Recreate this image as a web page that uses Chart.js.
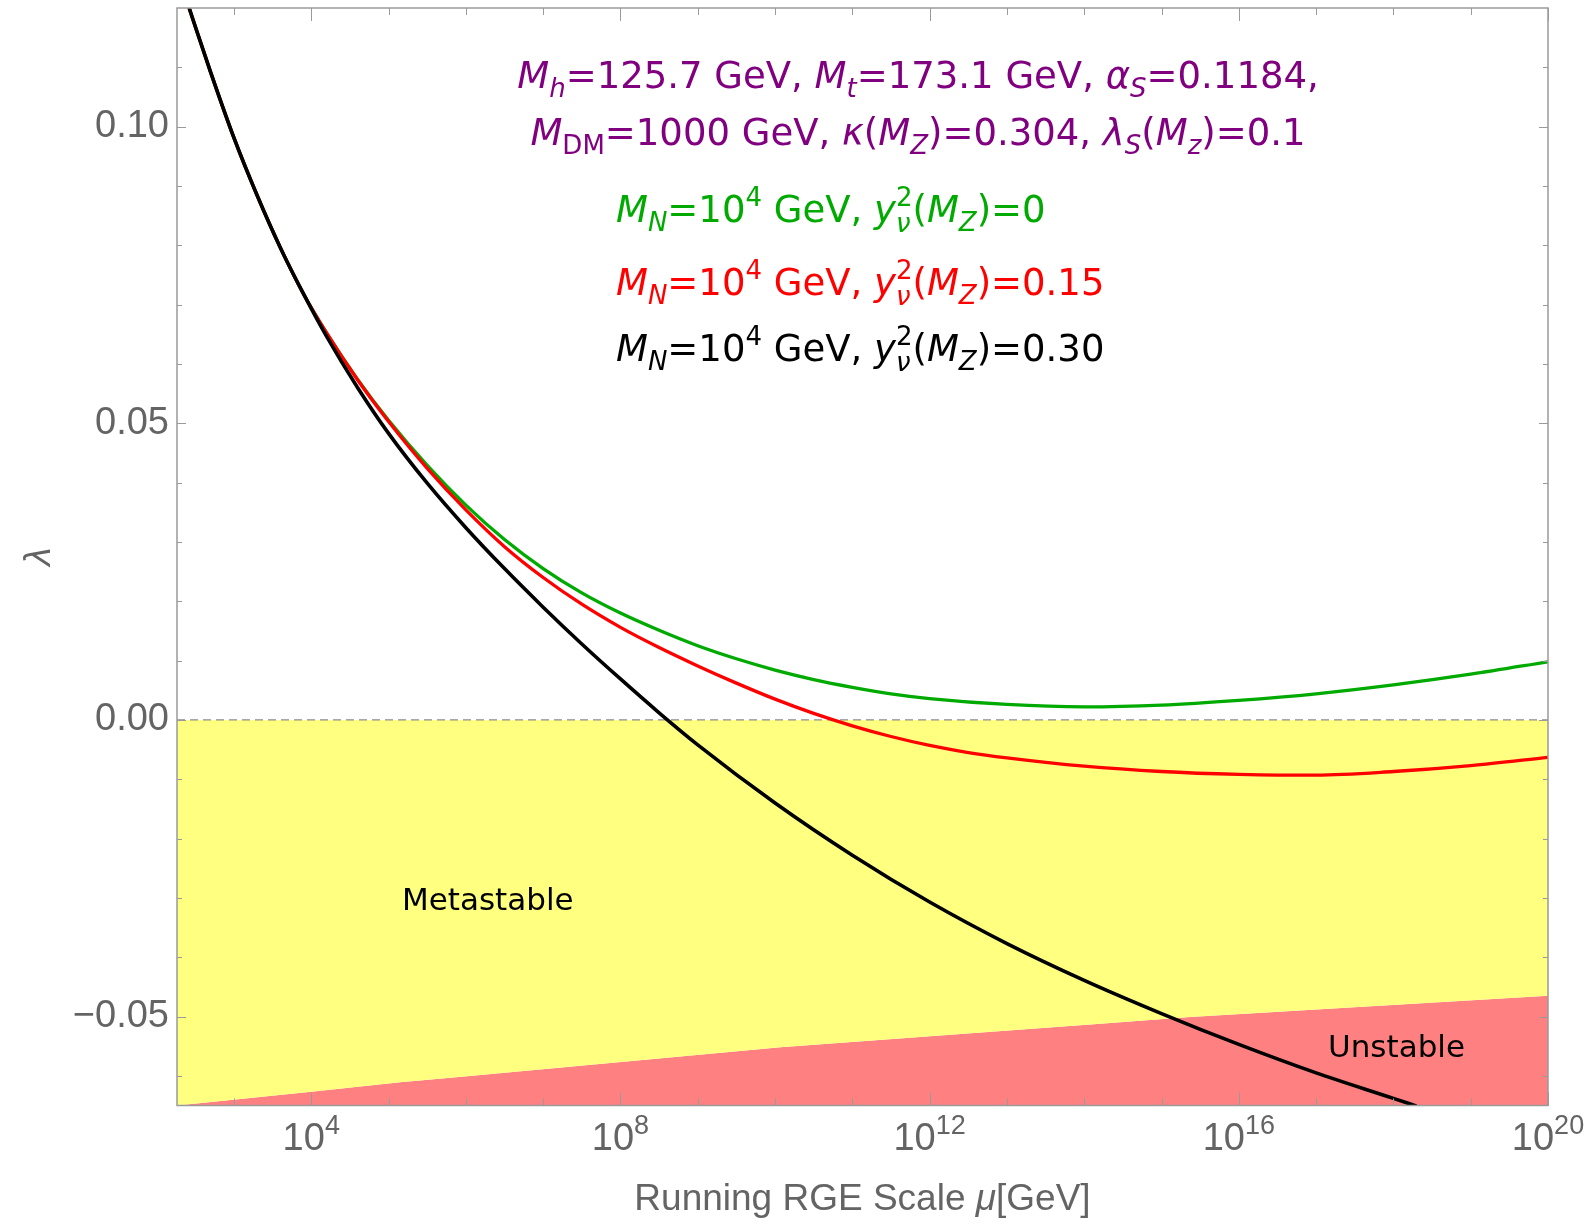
<!DOCTYPE html>
<html>
<head>
<meta charset="utf-8">
<script src="https://cdn.jsdelivr.net/npm/chart.js@4.4.0/dist/chart.umd.min.js"></script>
<style>
  html, body { margin: 0; background: #fff; }
</style>
</head>
<body>
<canvas id="lambdaChart" width="1594" height="1232"></canvas>
<script>
// x values are log10(mu / GeV)
const xMinExp = 2.263;
const xMaxExp = 20;
const yMin = -0.065;
const yMax = 0.12;

const xTickExp = [3, 4, 5, 6, 7, 8, 9, 10, 11, 12, 13, 14, 15, 16, 17, 18, 19, 20];
const xMajorExp = [4, 8, 12, 16, 20];
const yTickVals = [-0.06, -0.05, -0.04, -0.03, -0.02, -0.01, 0, 0.01, 0.02, 0.03, 0.04, 0.05, 0.06, 0.07, 0.08, 0.09, 0.10, 0.11];
const yMajorVals = [-0.05, 0, 0.05, 0.10];

// y_nu^2(M_Z) = 0.30
const blackExp = [2.42, 2.7, 3.0, 3.3, 3.6, 3.9, 4.2, 4.6, 5.0, 5.5, 6.0, 6.5, 7.0, 7.5, 8.0, 8.5, 9.0, 10, 11, 12, 13, 14, 15, 16, 17, 18, 18.3];
const blackLambda = [0.1200, 0.1091, 0.0981, 0.0884, 0.0796, 0.0718, 0.0646, 0.0560, 0.0483, 0.0399, 0.0324, 0.0255, 0.0190, 0.0128, 0.0069, 0.0012, -0.0042, -0.0140, -0.0228, -0.0307, -0.0377, -0.0439, -0.0495, -0.0547, -0.0595, -0.0638, -0.0651];

// y_nu^2(M_Z) = 0.15
const redExp = [2.42, 2.7, 3.0, 3.3, 3.6, 3.9, 4.2, 4.6, 5.0, 5.5, 6.0, 6.5, 7.0, 7.5, 8.0, 8.5, 9.0, 9.5, 10, 10.5, 11, 11.5, 12, 12.5, 13, 14, 15, 16, 16.5, 17, 18, 19, 20];
const redLambda = [0.1200, 0.1091, 0.0981, 0.0884, 0.0796, 0.0718, 0.0652, 0.0573, 0.0503, 0.0424, 0.0354, 0.0292, 0.0240, 0.0195, 0.0156, 0.0122, 0.0091, 0.0062, 0.0035, 0.0011, -0.0010, -0.0028, -0.0043, -0.0055, -0.0064, -0.0078, -0.0087, -0.0092, -0.0093, -0.0093, -0.0087, -0.0077, -0.0063];

// y_nu^2(M_Z) = 0
const greenExp = [2.42, 2.7, 3.0, 3.3, 3.6, 3.9, 4.2, 4.6, 5.0, 5.5, 6.0, 6.5, 7.0, 7.5, 8.0, 8.5, 9.0, 9.5, 10, 10.5, 11, 11.5, 12, 13, 14, 15, 16, 17, 18, 19, 20];
const greenLambda = [0.1200, 0.1091, 0.0981, 0.0884, 0.0796, 0.0718, 0.0652, 0.0574, 0.0505, 0.0429, 0.0362, 0.0304, 0.0255, 0.0214, 0.0180, 0.0151, 0.0125, 0.0103, 0.0084, 0.0068, 0.0055, 0.0044, 0.0036, 0.0026, 0.0022, 0.0025, 0.0033, 0.0044, 0.0059, 0.0077, 0.0098];

// lower edge of the metastable band
const unstableExp = [2.263, 4.0, 5.15, 5.98, 10.07, 14.21, 15.37, 20];
const unstableLambda = [-0.0650, -0.0627, -0.0611, -0.0601, -0.0552, -0.0512, -0.0501, -0.0465];

const yukawaValues = ['0', '0.15', '0.30'];
const yukawaColors = ['#00aa00', '#ff0000', '#000000'];

const GRAY = '#646464';
const FRAME = '#9a9a9a';
const TICK_SIZE = 38;

function pts(exps, vals) {
    return exps.map((e, i) => ({ x: Math.pow(10, e), y: vals[i] }));
}

// runs: [text, mode]  n normal, i italic, bi/bn subscript, pn superscript, st stacked sub,sup
function drawRuns(ctx, runs, x, y, size, family, color, align) {
    const setFont = (it, s) => { ctx.font = (it ? 'italic ' : '') + s + 'px "' + family + '"'; };
    const small = Math.round(size * 0.7);
    const items = [];
    let w = 0;
    for (const [t, m] of runs) {
        if (m === 'st') {
            const [b, p] = t.split(',');
            setFont(true, small);
            const wb = ctx.measureText(b).width;
            setFont(false, small);
            const wp = ctx.measureText(p).width;
            items.push({ x: w, parts: [[b, true, small, 0.26 * size], [p, false, small, -0.42 * size]] });
            w += Math.max(wb, wp);
        } else {
            const it = m.includes('i');
            const sub = m[0] === 'b';
            const sup = m[0] === 'p';
            const s = (sub || sup) ? small : size;
            setFont(it, s);
            const tw = ctx.measureText(t).width;
            items.push({ x: w, parts: [[t, it, s, sub ? 0.24 * size : sup ? -0.42 * size : 0]] });
            w += tw;
        }
    }
    const x0 = align === 'center' ? x - w / 2 : align === 'right' ? x - w : x;
    ctx.fillStyle = color;
    ctx.textBaseline = 'alphabetic';
    ctx.textAlign = 'left';
    for (const item of items) {
        for (const [t, ital, s, dy] of item.parts) {
            setFont(ital, s);
            ctx.fillText(t, x0 + item.x, y + dy);
        }
    }
    return w;
}

const paramLine1 = [['M', 'i'], ['h', 'bi'], ['=125.7 GeV, ', 'n'], ['M', 'i'], ['t', 'bi'], ['=173.1 GeV, ', 'n'], ['α', 'i'], ['S', 'bi'], ['=0.1184,', 'n']];
const paramLine2 = [['M', 'i'], ['DM', 'bn'], ['=1000 GeV, ', 'n'], ['κ', 'i'], ['(', 'n'], ['M', 'i'], ['Z', 'bi'], [')=0.304, ', 'n'], ['λ', 'i'], ['S', 'bi'], ['(', 'n'], ['M', 'i'], ['z', 'bi'], [')=0.1', 'n']];
const yukawaLine = v => [['M', 'i'], ['N', 'bi'], ['=10', 'n'], ['4', 'pn'], [' GeV, ', 'n'], ['y', 'i'], ['ν,2', 'st'], ['(', 'n'], ['M', 'i'], ['Z', 'bi'], [')=' + v, 'n']];

const framePlugin = {
    id: 'frameAndText',
    afterDraw(chart) {
        const { ctx, chartArea: a, scales: { x, y } } = chart;
        ctx.save();

        // ticks on all four sides, pointing inward
        ctx.strokeStyle = FRAME;
        ctx.lineWidth = 1;
        ctx.beginPath();
        x.ticks.forEach(t => {
            const px = Math.round(x.getPixelForValue(t.value)) + 0.5;
            const major = xMajorExp.some(e => Math.abs(Math.pow(10, e) - t.value) < t.value * 1e-9);
            const len = major ? 13 : 7;
            ctx.moveTo(px, a.bottom); ctx.lineTo(px, a.bottom - len);
            ctx.moveTo(px, a.top); ctx.lineTo(px, a.top + len);
        });
        y.ticks.forEach(t => {
            const py = Math.round(y.getPixelForValue(t.value)) + 0.5;
            const major = yMajorVals.some(v => Math.abs(v - t.value) < 1e-9);
            const len = major ? 9 : 5;
            ctx.moveTo(a.left, py); ctx.lineTo(a.left + len, py);
            ctx.moveTo(a.right, py); ctx.lineTo(a.right - len, py);
        });
        ctx.stroke();

        ctx.lineWidth = 1.5;
        ctx.strokeRect(a.left, a.top, a.right - a.left, a.bottom - a.top);

        // x tick labels 10^n
        xMajorExp.forEach(e => {
            const px = x.getPixelForValue(Math.pow(10, e));
            drawRuns(ctx, [['10', 'n'], [String(e), 'pn']], px, 1150, TICK_SIZE, 'Liberation Sans', GRAY, 'center');
        });

        // axis titles
        drawRuns(ctx, [['Running RGE Scale ', 'n'], ['μ', 'i'], ['[GeV]', 'n']], (a.left + a.right) / 2, 1210, 37, 'Liberation Sans', GRAY, 'center');
        ctx.save();
        ctx.translate(50, (a.top + a.bottom) / 2);
        ctx.rotate(-Math.PI / 2);
        drawRuns(ctx, [['λ', 'i']], 0, 0, 37, 'Liberation Sans', GRAY, 'center');
        ctx.restore();

        // parameter text
        drawRuns(ctx, paramLine1, 918, 88, 37, 'DejaVu Sans', '#800080', 'center');
        drawRuns(ctx, paramLine2, 918, 145, 37, 'DejaVu Sans', '#800080', 'center');
        const baselines = [222, 295, 361];
        yukawaValues.forEach((v, i) => {
            drawRuns(ctx, yukawaLine(v), 616, baselines[i], 37, 'DejaVu Sans', yukawaColors[i], 'left');
        });

        // region labels
        drawRuns(ctx, [['Metastable', 'n']], 402, 910, 31, 'DejaVu Sans', '#000', 'left');
        drawRuns(ctx, [['Unstable', 'n']], 1328, 1057, 31, 'DejaVu Sans', '#000', 'left');

        ctx.restore();
    }
};

const canvas = document.getElementById('lambdaChart');
const ctx = canvas.getContext('2d');

window._lambdaChart = new Chart(ctx, {
    type: 'line',
    data: {
        datasets: [
            {
                label: 'y2 = 0.30',
                data: pts(blackExp, blackLambda),
                borderColor: yukawaColors[2],
                borderWidth: 3.6,
                pointRadius: 0,
                cubicInterpolationMode: 'monotone',
                fill: false,
                order: 0
            },
            {
                label: 'y2 = 0.15',
                data: pts(redExp, redLambda),
                borderColor: yukawaColors[1],
                borderWidth: 3.3,
                pointRadius: 0,
                cubicInterpolationMode: 'monotone',
                fill: false,
                order: 1
            },
            {
                label: 'y2 = 0',
                data: pts(greenExp, greenLambda),
                borderColor: yukawaColors[0],
                borderWidth: 3.3,
                pointRadius: 0,
                cubicInterpolationMode: 'monotone',
                fill: false,
                order: 2
            },
            {
                label: 'zero',
                data: pts(unstableExp, unstableExp.map(() => 0)),
                borderColor: '#8c8c8c',
                borderWidth: 1.3,
                borderDash: [8, 5],
                pointRadius: 0,
                fill: '+1',
                backgroundColor: '#ffff80',
                order: 3
            },
            {
                label: 'unstable',
                data: pts(unstableExp, unstableLambda),
                borderWidth: 0,
                borderColor: 'rgba(0,0,0,0)',
                pointRadius: 0,
                fill: 'start',
                backgroundColor: '#ff8080',
                order: 4
            }
        ]
    },
    options: {
        responsive: false,
        animation: false,
        devicePixelRatio: 1,
        layout: { padding: { left: 0, right: 46, top: 8, bottom: 0 } },
        plugins: {
            legend: { display: false },
            tooltip: { enabled: false }
        },
        scales: {
            x: {
                type: 'logarithmic',
                bounds: 'data',
                min: Math.pow(10, xMinExp),
                max: Math.pow(10, xMaxExp),
                grid: { display: false, drawTicks: false },
                border: { display: false },
                ticks: { display: false },
                afterBuildTicks: s => { s.ticks = xTickExp.map(e => ({ value: Math.pow(10, e) })); },
                afterFit: s => { s.height = 126.5; s.paddingLeft = 0; s.paddingRight = 0; }
            },
            y: {
                type: 'linear',
                bounds: 'data',
                min: yMin,
                max: yMax,
                grid: { display: false, drawTicks: false },
                border: { display: false },
                ticks: {
                    padding: 8,
                    color: GRAY,
                    font: { family: 'Liberation Sans', size: TICK_SIZE },
                    callback: v => yMajorVals.some(m => Math.abs(m - v) < 1e-9)
                        ? (Math.abs(v) < 1e-9 ? '0.00' : v.toFixed(2).replace('-', '\u2212'))
                        : ''
                },
                afterBuildTicks: s => { s.ticks = yTickVals.map(v => ({ value: v })); },
                afterFit: s => { s.width = 177; s.paddingTop = 0; s.paddingBottom = 0; }
            }
        }
    },
    plugins: [framePlugin]
});
</script>
</body>
</html>
